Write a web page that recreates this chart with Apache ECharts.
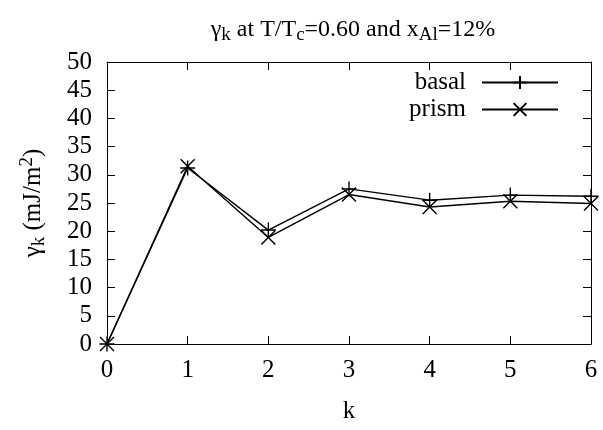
<!DOCTYPE html>
<html><head><meta charset="utf-8">
<script src="https://cdn.jsdelivr.net/npm/echarts@6/dist/echarts.min.js"></script>
<style>html,body{margin:0;padding:0;background:#fff}#c{width:603px;height:430px}</style>
</head><body><div id="c"></div>
<script>
const kValues = [0, 1, 2, 3, 4, 5, 6];
const basal = [0, 31.2, 20.2, 27.5, 25.5, 26.4, 26.2];
const prism = [0, 31.5, 18.9, 26.5, 24.3, 25.3, 24.9];
const yTicks = [0, 5, 10, 15, 20, 25, 30, 35, 40, 45, 50];

const FONT = 'Liberation Serif';
const plus = 'path://M0,-1L0,1M-1,0L1,0';
const cross = 'path://M-1,-1L1,1M-1,1L1,-1';
const chart = echarts.init(document.getElementById('c'));
const tickStyle = {inside: true, length: 8, lineStyle: {color: '#000', width: 1}};
const lineStyle = {show: true, onZero: false, lineStyle: {color: '#000', width: 1}};
chart.setOption({
  backgroundColor: '#fff',
  animation: false,
  textStyle: {fontFamily: FONT, color: '#000'},
  title: {
    text: '{g|γ}{s|k}{t| at T/T}{s|c}{t|=0.60 and x}{s|Al}{t|=12%}',
    left: 348, top: 9, textAlign: 'center',
    textStyle: {
      fontWeight: 'normal',
      rich: {
        g: {fontFamily: FONT, fontSize: 24, color: '#000', fontWeight: 'normal'},
        t: {fontFamily: FONT, fontSize: 24, color: '#000', fontWeight: 'normal'},
        s: {fontFamily: FONT, fontSize: 19, color: '#000', fontWeight: 'normal', verticalAlign: 'bottom', padding: [12, 0, 0, 0]}
      }
    }
  },
  legend: {
    right: 44, top: 69, padding: 0, orient: 'vertical', align: 'right',
    itemWidth: 76, itemHeight: 16, itemGap: 0,
    textStyle: {fontFamily: FONT, fontSize: 25, lineHeight: 27, color: '#000', padding: [0, 11, 0, 0]},
    data: [{name: 'basal'}, {name: 'prism'}]
  },
  grid: {left: 107, right: 12, top: 62, bottom: 86},
  xAxis: [{
    type: 'value', min: 0, max: 6, interval: 1,
    name: 'k', nameLocation: 'middle', nameGap: 55,
    nameTextStyle: {fontFamily: FONT, fontSize: 25, color: '#000'},
    axisLine: lineStyle,
    axisTick: tickStyle,
    axisLabel: {fontFamily: FONT, fontSize: 25, color: '#000', margin: 14},
    splitLine: {show: false}
  }, {
    type: 'value', min: 0, max: 6, interval: 1, position: 'top',
    axisLine: lineStyle,
    axisTick: tickStyle, axisLabel: {show: false}, splitLine: {show: false}
  }],
  yAxis: [{
    type: 'value', min: yTicks[0], max: yTicks[yTicks.length - 1], interval: 5,
    name: '{g|γ}{s|k}{t| (mJ/m}{p|2}{t|)}', nameLocation: 'middle', nameGap: 58, nameRotate: 90,
    nameTextStyle: {
      rich: {
        g: {fontFamily: FONT, fontSize: 25, color: '#000'},
        t: {fontFamily: FONT, fontSize: 25, color: '#000'},
        s: {fontFamily: FONT, fontSize: 19, color: '#000', verticalAlign: 'bottom', padding: [12, 0, 0, 0]},
        p: {fontFamily: FONT, fontSize: 19, color: '#000', verticalAlign: 'top', padding: [0, 0, 12, 0]}
      }
    },
    axisLine: lineStyle,
    axisTick: tickStyle,
    axisLabel: {fontFamily: FONT, fontSize: 25, color: '#000', margin: 15},
    splitLine: {show: false}
  }, {
    type: 'value', min: yTicks[0], max: yTicks[yTicks.length - 1], interval: 5, position: 'right',
    axisLine: lineStyle,
    axisTick: tickStyle, axisLabel: {show: false}, splitLine: {show: false}
  }],
  series: [{
    name: 'basal', type: 'line',
    data: kValues.map((k, i) => [k, basal[i]]),
    symbol: plus, symbolSize: 15,
    lineStyle: {color: '#000', width: 1.4},
    itemStyle: {color: '#000', borderColor: '#000', borderWidth: 1.4},
    showAllSymbol: true
  }, {
    name: 'prism', type: 'line',
    data: kValues.map((k, i) => [k, prism[i]]),
    symbol: cross, symbolSize: 14,
    lineStyle: {color: '#000', width: 1.4},
    itemStyle: {color: '#000', borderColor: '#000', borderWidth: 1.4},
    showAllSymbol: true
  }]
});
</script></body></html>
